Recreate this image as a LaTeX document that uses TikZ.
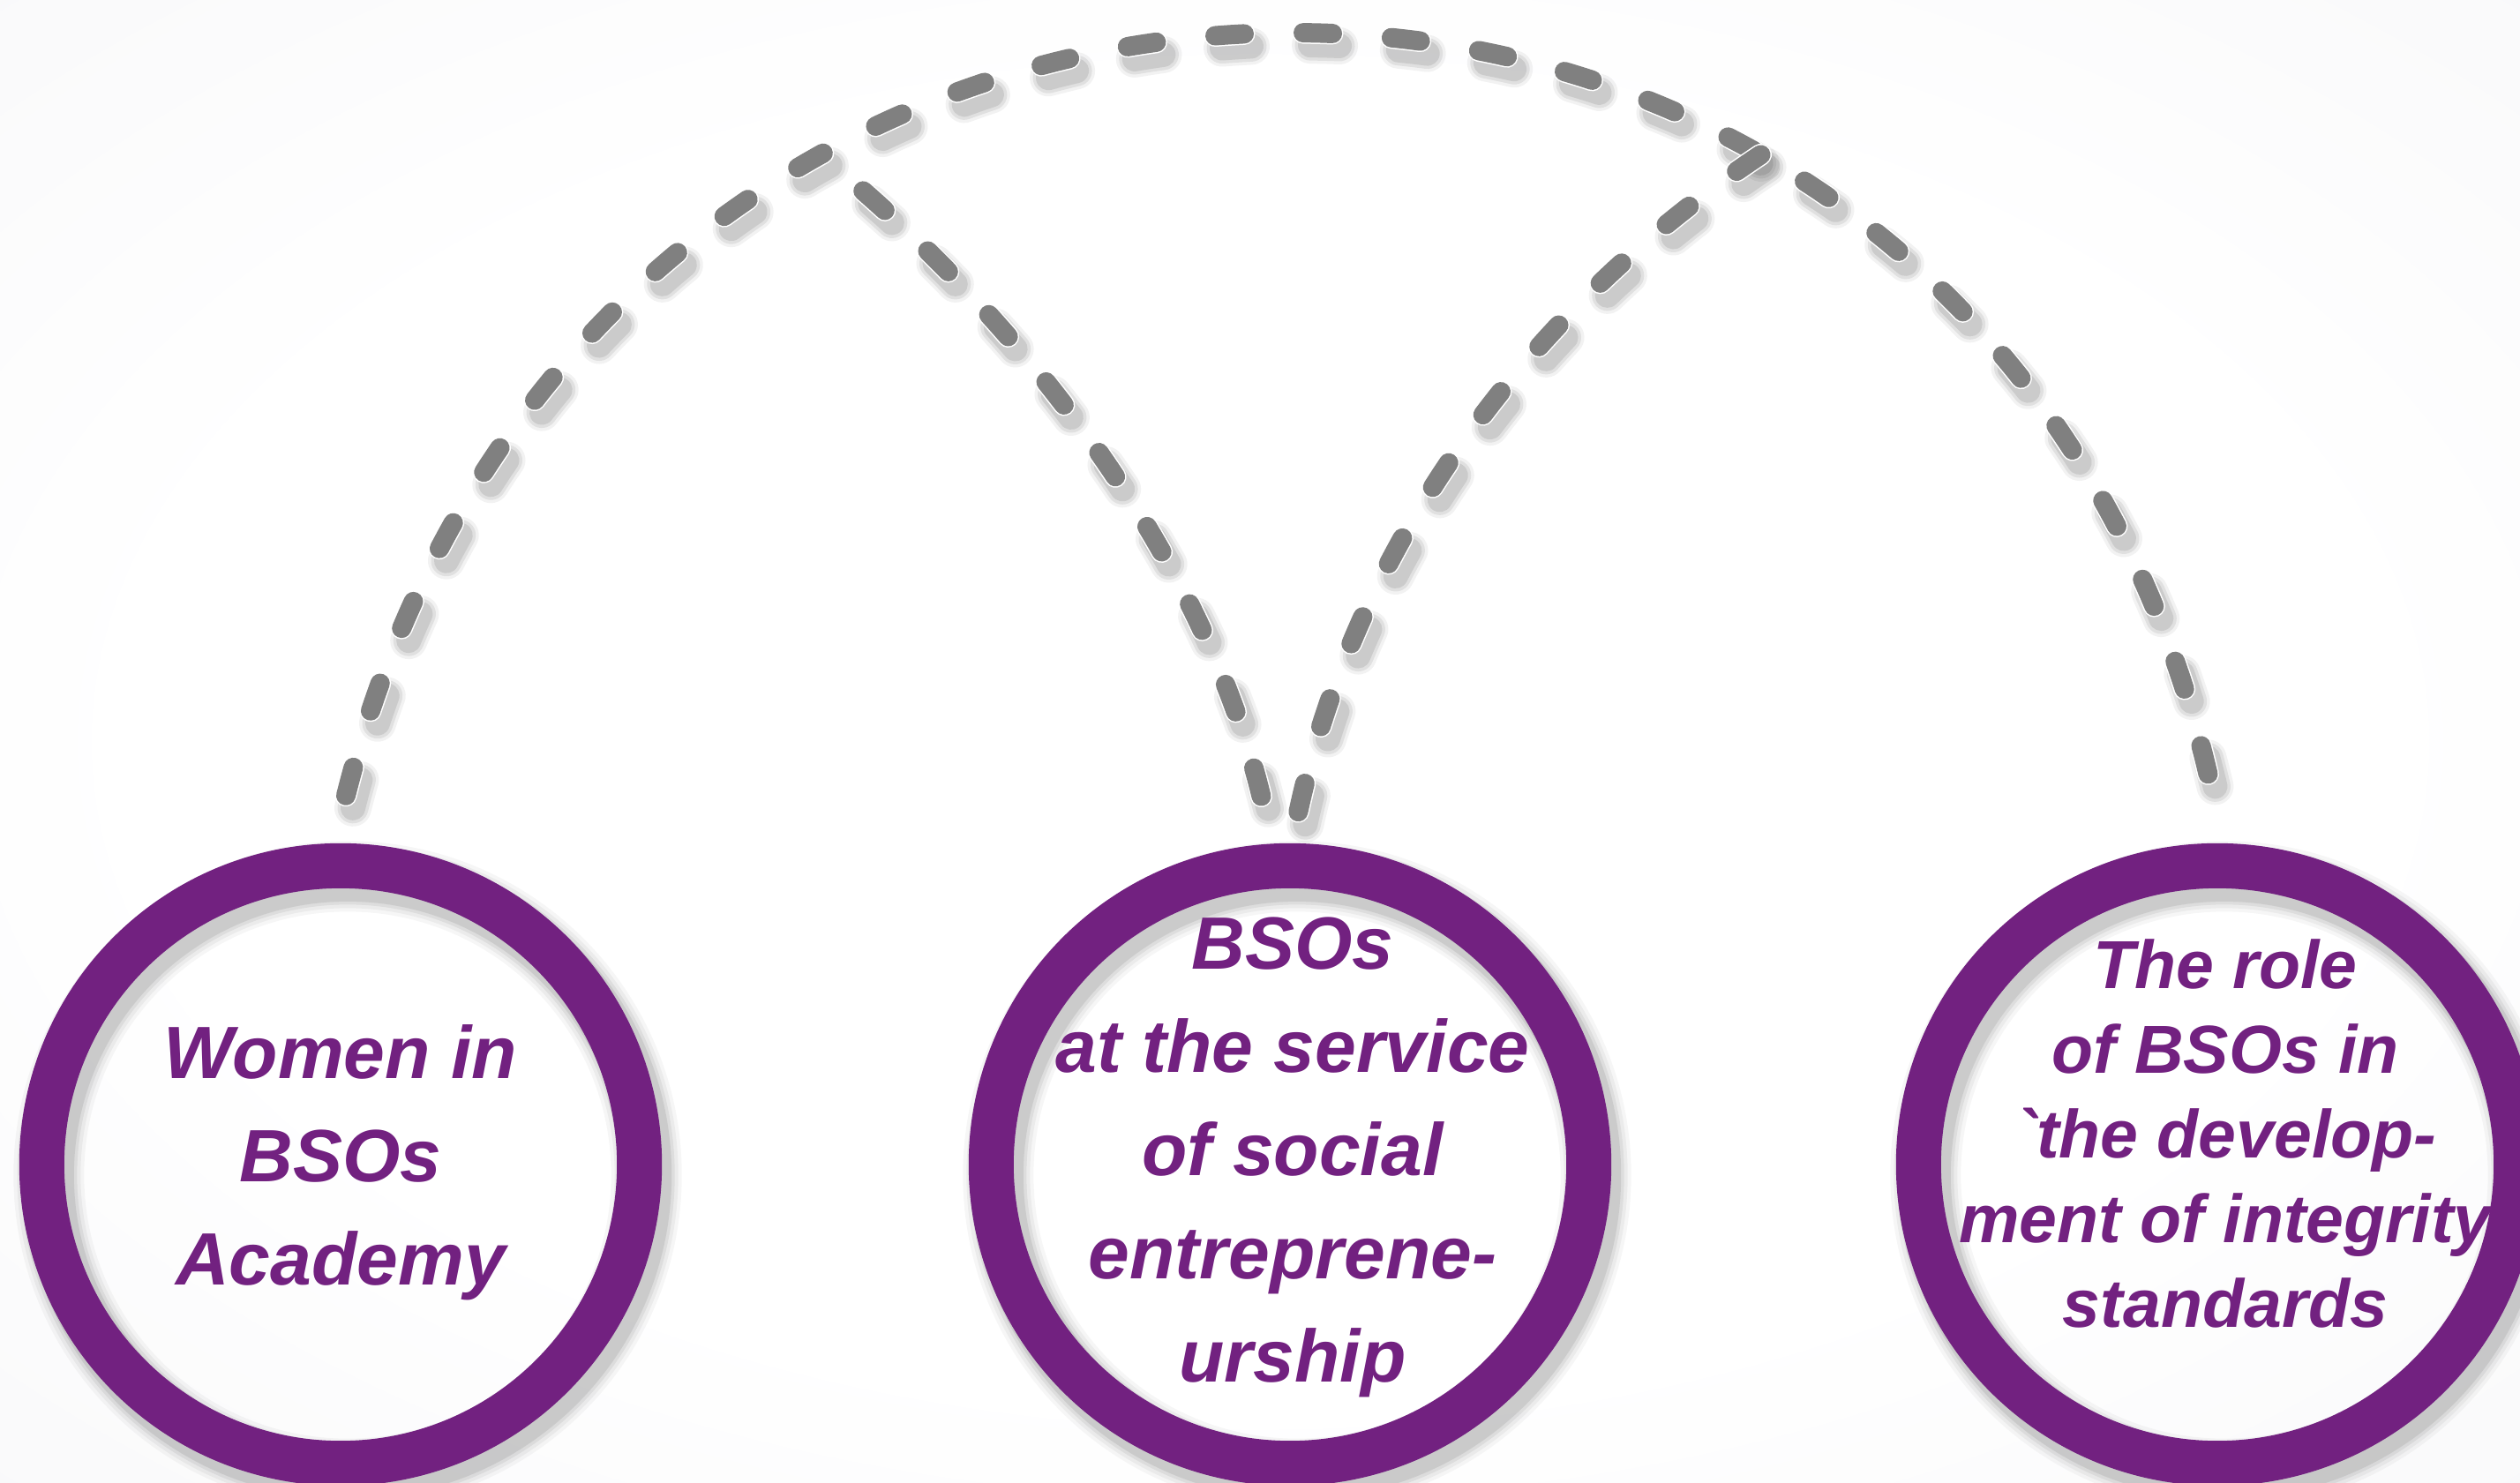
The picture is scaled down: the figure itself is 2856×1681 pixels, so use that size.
\documentclass[tikz,border=0pt]{standalone}
\usepackage{fontspec}
\setmainfont{Liberation Sans}
\usetikzlibrary{calc}
\definecolor{ringc}{RGB}{114,33,128}
\definecolor{dashc}{RGB}{128,128,128}
\definecolor{bgc}{RGB}{234,234,238}
\pgfdeclarelayer{bglayer}
\pgfdeclarelayer{shadowlayer}
\pgfsetlayers{bglayer,shadowlayer,main}
\pgfdeclareradialshading{bgshade}{\pgfpoint{0bp}{0bp}}{color(0bp)=(white); color(22bp)=(white); color(72bp)=(bgc)}
\font\gravefont="Liberation Sans/BI" at 21.9pt
\newcommand\conA{(a1) .. controls +(290,-1153) and +(-250,-1153) .. (a3)}
\newcommand\conB{(j1) .. controls +(241,196) and +(-55,-291) .. (b1)}
\newcommand\conC{(j2) .. controls +(-293,195) and +(55,-291) .. (b2)}
\begin{document}
\begin{tikzpicture}[x=0.01cm,y=-0.01cm,
  ring/.style={circle, draw=ringc, line width=0.51cm, minimum size=6.77cm, inner sep=0pt},
  lbl/.style={align=center, text=ringc, inner sep=0pt,
    font=\bfseries\itshape\fontsize{23.9pt}{33.3pt}\selectfont},
  lblsmall/.style={align=center, text=ringc, inner sep=0pt,
    font=\bfseries\itshape\fontsize{21.9pt}{27.3pt}\selectfont},
  dashbase/.style={line cap=round, dash pattern=on 0.33cm off 0.67cm},
  link/.style={dashbase, draw=dashc, line width=0.22cm},
  linkrim/.style={dashbase, draw=white, line width=0.25cm},
  phB/.style={dash phase=0.365cm},
]
\useasboundingbox (0,0) rectangle (2856,1681);
\begin{pgfonlayer}{bglayer}
  \shade[shading=bgshade] (0,0) rectangle (2856,1681);
\end{pgfonlayer}

% circles
\node[ring] (c1) at (386,1320) {};
\node[ring] (c2) at (1462,1320) {};
\node[ring] (c3) at (2513,1320) {};

% labels
\node[lbl] (t1) at ($(c1)+(0,-2)$) {Women in\\BSOs\\Academy};
\node[lbl] (t2) at ($(c2)+(3,-8)$) {BSOs\\at the service\\of social\\entreprene-\\urship};
\node[lblsmall] (t3) at ($(c3)+(9,-35)$) {The role\\of BSOs in\\{\gravefont`}the develop-\\ment of integrity\\standards};

% connector end points
\coordinate (a1) at ($(c1.north)+(6,-54)$);
\coordinate (a3) at ($(c3.north)+(-5,-54)$);
\coordinate (b1) at ($(c2.north)+(-23,-9)$);
\coordinate (b2) at ($(c2.north)+(4,-9)$);

% connectors
\draw[linkrim] \conA;
\draw[link] \conA coordinate[pos=0.3] (j1) coordinate[pos=0.70] (j2);
\draw[linkrim,phB] \conB;
\draw[link,phB] \conB;
\draw[linkrim] \conC;
\draw[link] \conC;

% shadows
\begin{pgfonlayer}{shadowlayer}
  \foreach \c in {c1,c2,c3}{
    \foreach \lw/\op in {0.80/0.035,0.72/0.045,0.64/0.06,0.57/0.08}{
      \draw[black,opacity=\op,line width=\lw cm] ($(\c)+(8,12)$) circle[radius=3.385cm];
    }
  }
  \begin{scope}[transform canvas={shift={(8,14)}}]
    \foreach \lw/\op in {0.42/0.05,0.35/0.07,0.28/0.09}{
      \draw[dashbase,black,opacity=\op,line width=\lw cm] \conA;
      \draw[dashbase,phB,black,opacity=\op,line width=\lw cm] \conB;
      \draw[dashbase,black,opacity=\op,line width=\lw cm] \conC;
    }
  \end{scope}
\end{pgfonlayer}
\end{tikzpicture}
\end{document}
